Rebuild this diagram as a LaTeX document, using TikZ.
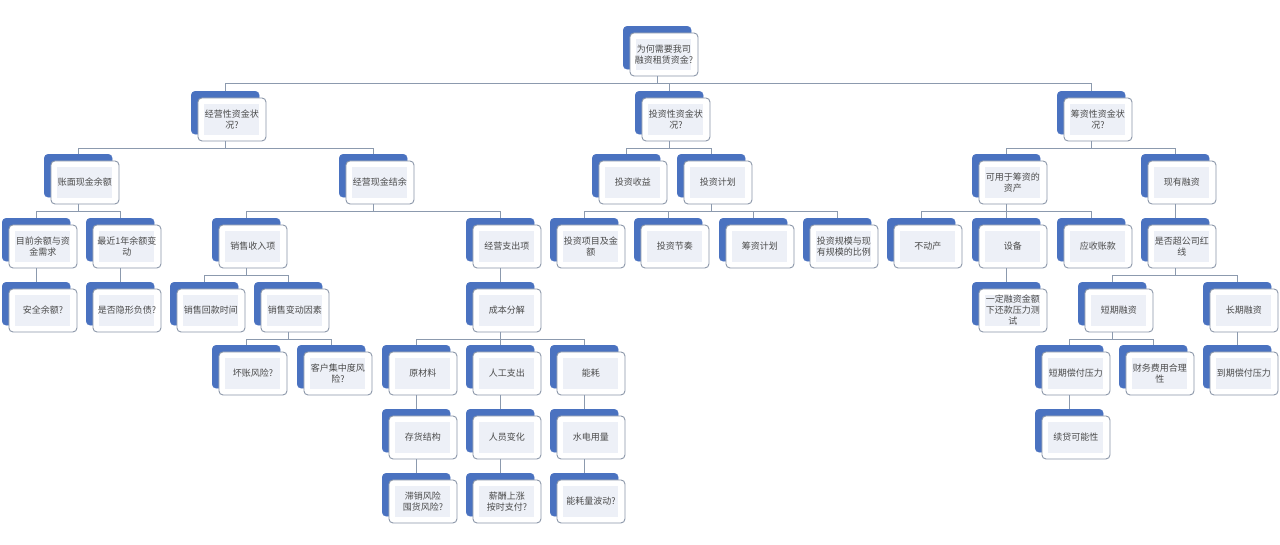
\documentclass[tikz,border=0pt]{standalone}
\usepackage{fontspec}
\newfontfamily\cjk{Noto Sans CJK SC}
\usetikzlibrary{calc}
\definecolor{backblue}{HTML}{4A72C0}
\definecolor{frontedge}{HTML}{8A96A8}
\definecolor{panelfill}{HTML}{EDF0F7}
\definecolor{connline}{HTML}{8C9AAE}
\definecolor{txtgray}{HTML}{4A4A4A}
\tikzset{
  backbox/.style={draw=backblue, fill=backblue, rounded corners=4pt, minimum width=68pt, minimum height=43pt, inner sep=0pt, anchor=north west},
  frontbox/.style={draw=frontedge, fill=white, line width=0.9pt, rounded corners=4pt, minimum width=68pt, minimum height=43pt, inner sep=0pt, anchor=north west},
  panelbox/.style={fill=panelfill, minimum width=55pt, minimum height=31pt, inner sep=0pt},
  lbl/.style={text=txtgray, font=\cjk\fontsize{9}{11}\selectfont, align=center, inner sep=0pt},
  conn/.style={draw=connline, line width=0.9pt}
}
\newcommand\nd[4]{%
  \node[backbox] (#1) at (#2,#3) {};
  \node[frontbox] (#1f) at (#2+6.5,#3+6.5) {};
  \node[panelbox] (#1p) at (#1f.center) {};
  \node[lbl] (#1t) at (#1f.center) {#4};
}
\newcommand\edg[2]{%
  \draw[conn] (#1f.south -| #1.center) -- ++(0,7) -| (#2.north);
}
\begin{document}
\begin{tikzpicture}[x=1pt,y=-1pt]
\fill[white] (0,0) rectangle (1280,544);
\useasboundingbox (0,0) rectangle (1280,544);
% level 0
\nd{top}{623}{26}{为何需要我司\\融资租赁资金?}
% level 1
\nd{jy}{191}{91}{经营性资金状\\况?}
\nd{tz}{635}{91}{投资性资金状\\况?}
\nd{cz}{1057}{91}{筹资性资金状\\况?}
% level 2
\nd{zm}{44}{154}{账面现金余额}
\nd{jyxj}{339}{154}{经营现金结余}
\nd{tzsy}{592}{154}{投资收益}
\nd{tzjh}{677}{154}{投资计划}
\nd{kyzc}{972}{154}{可用于筹资的\\资产}
\nd{xyrz}{1141}{154}{现有融资}
% level 3
\nd{mqye}{2}{218}{目前余额与资\\金需求}
\nd{zjye}{86}{218}{最近1年余额变\\动}
\nd{xssr}{212}{218}{销售收入项}
\nd{jyzc}{466}{218}{经营支出项}
\nd{tzxm}{550}{218}{投资项目及金\\额}
\nd{tzjz}{634}{218}{投资节奏}
\nd{czjh}{719}{218}{筹资计划}
\nd{tzgm}{803}{218}{投资规模与现\\有规模的比例}
\nd{bdc}{887}{218}{不动产}
\nd{sb}{972}{218}{设备}
\nd{yszk}{1057}{218}{应收账款}
\nd{sfcg}{1141}{218}{是否超公司红\\线}
% level 4
\nd{aqye}{2}{282}{安全余额?}
\nd{sfyx}{86}{282}{是否隐形负债?}
\nd{xshk}{170}{282}{销售回款时间}
\nd{xsbd}{254}{282}{销售变动因素}
\nd{cbfj}{466}{282}{成本分解}
\nd{ydrz}{972}{282}{一定融资金额\\下还款压力测\\试}
\nd{dqrz}{1078}{282}{短期融资}
\nd{cqrz}{1203}{282}{长期融资}
% level 5
\nd{hzfx}{212}{345}{坏账风险?}
\nd{khjz}{297}{345}{客户集中度风\\险?}
\nd{ycl}{382}{345}{原材料}
\nd{rgzc}{466}{345}{人工支出}
\nd{nh}{550}{345}{能耗}
\nd{dqcf}{1035}{345}{短期偿付压力}
\nd{cwfy}{1119}{345}{财务费用合理\\性}
\nd{dqch}{1203}{345}{到期偿付压力}
% level 6
\nd{chjg}{382}{409}{存货结构}
\nd{ryb}{466}{409}{人员变化}
\nd{sdyl}{550}{409}{水电用量}
\nd{xdkn}{1035}{409}{续贷可能性}
% level 7
\nd{zxfx}{382}{473}{滞销风险\\囤货风险?}
\nd{xcsz}{466}{473}{薪酬上涨\\按时支付?}
\nd{nhbd}{550}{473}{能耗量波动?}
% connectors
\edg{top}{jy}\edg{top}{tz}\edg{top}{cz}
\edg{jy}{zm}\edg{jy}{jyxj}
\edg{tz}{tzsy}\edg{tz}{tzjh}
\edg{cz}{kyzc}\edg{cz}{xyrz}
\edg{zm}{mqye}\edg{zm}{zjye}
\edg{jyxj}{xssr}\edg{jyxj}{jyzc}
\edg{tzjh}{tzxm}\edg{tzjh}{tzjz}\edg{tzjh}{czjh}\edg{tzjh}{tzgm}
\edg{kyzc}{bdc}\edg{kyzc}{sb}\edg{kyzc}{yszk}
\edg{xyrz}{sfcg}
\edg{mqye}{aqye}\edg{zjye}{sfyx}
\edg{xssr}{xshk}\edg{xssr}{xsbd}
\edg{jyzc}{cbfj}
\edg{sb}{ydrz}
\edg{sfcg}{dqrz}\edg{sfcg}{cqrz}
\edg{xsbd}{hzfx}\edg{xsbd}{khjz}
\edg{cbfj}{ycl}\edg{cbfj}{rgzc}\edg{cbfj}{nh}
\edg{dqrz}{dqcf}\edg{dqrz}{cwfy}
\edg{cqrz}{dqch}
\edg{ycl}{chjg}\edg{rgzc}{ryb}\edg{nh}{sdyl}\edg{dqcf}{xdkn}
\edg{chjg}{zxfx}\edg{ryb}{xcsz}\edg{sdyl}{nhbd}
\end{tikzpicture}
\end{document}
